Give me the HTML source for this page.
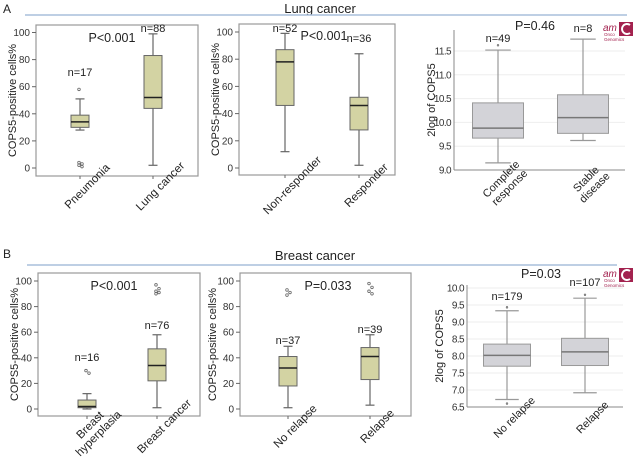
<!DOCTYPE html>
<html><head><meta charset="utf-8"><style>
body{margin:0;background:#fff;width:640px;height:460px;overflow:hidden;font-family:"Liberation Sans",sans-serif}
svg text{font-family:"Liberation Sans",sans-serif}
</style></head><body>
<svg id="fig" width="640" height="460" viewBox="0 0 640 460">
<text x="3" y="13" font-size="12" fill="#222">A</text>
<text x="320" y="13" font-size="13" text-anchor="middle" fill="#222">Lung cancer</text>
<line x1="25" y1="15" x2="627" y2="15" stroke="#a9bfdc" stroke-width="1.5"/>
<text x="3" y="258" font-size="12" fill="#222">B</text>
<text x="315" y="260" font-size="13" text-anchor="middle" fill="#222">Breast cancer</text>
<line x1="27" y1="265" x2="617" y2="265" stroke="#a9bfdc" stroke-width="1.5"/>
<g transform="translate(603,22)">
<text x="0" y="9" font-size="10" font-style="italic" fill="#a3224f" font-family="Liberation Serif">am</text>
<text x="1" y="14" font-size="4.5" fill="#a3224f">Onco</text>
<text x="1" y="19" font-size="4.5" fill="#a3224f">Genomics</text>
<rect x="16" y="0" width="14" height="14" fill="#a3224f"/>
<path d="M27 3 A5 5 0 1 0 27 11" stroke="#fff" stroke-width="2" fill="none"/>
</g>
<g transform="translate(603,268)">
<text x="0" y="9" font-size="10" font-style="italic" fill="#a3224f" font-family="Liberation Serif">am</text>
<text x="1" y="14" font-size="4.5" fill="#a3224f">Onco</text>
<text x="1" y="19" font-size="4.5" fill="#a3224f">Genomics</text>
<rect x="16" y="0" width="14" height="14" fill="#a3224f"/>
<path d="M27 3 A5 5 0 1 0 27 11" stroke="#fff" stroke-width="2" fill="none"/>
</g>
</svg>
<script>
// Panel A1
const a1Categories=["Pneumonia","Lung cancer"];
const a1Low=[28,2],a1Q1=[30,44],a1Median=[34,52],a1Q3=[39,83],a1High=[51,99];
const a1Outliers=[[58,3,4,1,2],[]];
const a1N=["n=17","n=88"];
const a1Ticks=[0,20,40,60,80,100];
// Panel A2
const a2Categories=["Non-responder","Responder"];
const a2Low=[12,2],a2Q1=[46,28],a2Median=[78,46],a2Q3=[87,52],a2High=[99,84];
const a2Outliers=[[],[]];
const a2N=["n=52","n=36"];
const a2Ticks=[0,20,40,60,80,100];
// Panel A3
const a3Categories=[["Complete","response"],["Stable","disease"]];
const a3Low=[9.15,9.62],a3Q1=[9.67,9.77],a3Median=[9.88,10.1],a3Q3=[10.41,10.58],a3High=[11.52,11.75];
const a3Outliers=[[11.62],[]];
const a3N=["n=49","n=8"];
const a3Ticks=[9.0,9.5,10.0,10.5,11.0,11.5];
// Panel B1
const b1Categories=[["Breast","hyperplasia"],"Breast cancer"];
const b1Low=[0,1],b1Q1=[1,22],b1Median=[2,34],b1Q3=[7,47],b1High=[12,58];
const b1Outliers=[[30,28],[97,94,92,91,90]];
const b1N=["n=16","n=76"];
const b1Ticks=[0,20,40,60,80,100];
// Panel B2
const b2Categories=["No relapse","Relapse"];
const b2Low=[1,3],b2Q1=[18,23],b2Median=[32,41],b2Q3=[41,48],b2High=[49,58];
const b2Outliers=[[93,91,89],[98,95,92,90]];
const b2N=["n=37","n=39"];
const b2Ticks=[0,20,40,60,80,100];
// Panel B3
const b3Categories=["No relapse","Relapse"];
const b3Low=[6.72,6.92],b3Q1=[7.7,7.72],b3Median=[8.02,8.12],b3Q3=[8.35,8.52],b3High=[9.33,9.7];
const b3Outliers=[[9.43,6.6],[9.8]];
const b3N=["n=179","n=107"];
const b3Ticks=[6.5,7.0,7.5,8.0,8.5,9.0,9.5,10.0];

const NS="http://www.w3.org/2000/svg";
const svg=document.getElementById('fig');
function mk(tag,attrs,parent){const e=document.createElementNS(NS,tag);for(const k in attrs)e.setAttribute(k,attrs[k]);(parent||svg).appendChild(e);return e;}

function panel(o){
  const g=mk('g',{});
  
  
  const y=v=>o.y0+(v-o.vmin)/(o.vmax-o.vmin)*(o.y1-o.y0);
  const spss=o.style==='spss';
  if(spss){
    const fr=mk('rect',{x:o.fx0,y:o.fy0,width:o.fx1-o.fx0,height:o.fy1-o.fy0,fill:'none',stroke:'#999','stroke-width':1.2},g);
    
    
  }else{
    o.ticks.forEach(t=>{const l=mk('line',{x1:o.fx0,x2:o.fx1,y1:y(t),y2:y(t),stroke:'#eee'},g);
      
      });
    const ax=mk('line',{x1:o.fx0,x2:o.fx0,y1:o.fy0,y2:o.fy1,stroke:'#888'},g);
    
    
    const bx=mk('line',{x1:o.fx0,x2:o.fx1,y1:o.fy1,y2:o.fy1,stroke:'#888'},g);
    
    
  }
  o.ticks.forEach(t=>{
    const tx=mk('text',{x:o.fx0-(spss?6:3),y:y(t)+3.5,'font-size':10,'text-anchor':'end',fill:'#333','letter-spacing':spss?0:-0.6},g);
    tx.textContent=spss?t:t.toFixed(1);
    
    
    if(spss){mk('line',{x1:o.fx0-4,x2:o.fx0,y1:y(t),y2:y(t),stroke:'#666'},g);}
  });
  const yt=mk('text',{x:0,y:0,'font-size':11,'text-anchor':'middle',fill:'#222',transform:`translate(${o.ytx},${(o.fy0+o.fy1)/2}) rotate(-90)`},g);
  yt.textContent=o.ylabel;
  
  
  o.cats.forEach((c,i)=>{
    const cx=o.cx[i],w=o.bw;
    const stroke=spss?'#666':'#999';
    const wl=mk('line',{x1:cx,x2:cx,y1:y(o.low[i]),y2:y(o.high[i]),stroke:stroke,'stroke-width':1.2},g);
    
    
    [o.low[i],o.high[i]].forEach(v=>{const c2=mk('line',{x1:cx-w/4,x2:cx+w/4,y1:y(v),y2:y(v),stroke:stroke,'stroke-width':1.2},g);
      
      });
    const b=mk('rect',{x:cx-w/2,y:y(o.q3[i]),width:w,height:y(o.q1[i])-y(o.q3[i]),fill:spss?'#d3d3a3':'#d3d3d8',stroke:stroke,'stroke-width':1},g);
    
    
    const m=mk('line',{x1:cx-w/2,x2:cx+w/2,y1:y(o.med[i]),y2:y(o.med[i]),stroke:spss?'#222':'#777','stroke-width':1.5},g);
    
    
    o.out[i].forEach((v,j)=>{const p=mk('circle',{cx:cx+(spss?((j%2)*3-1):0),cy:y(v),r:spss?1.3:0.8,fill:'none',stroke:'#666','stroke-width':0.8},g);
      
      });
    const n=mk('text',{x:cx,y:o.ny[i],'font-size':11,'text-anchor':'middle',fill:'#222'},g);
    n.textContent=o.n[i];
    
    
    if(spss)mk('line',{x1:cx,x2:cx,y1:o.fy1,y2:o.fy1+3,stroke:'#666'},g);
    const lines=Array.isArray(c)?c:[c];
    const cl=mk('text',{x:0,y:0,'font-size':spss?11.5:11,'text-anchor':'middle',fill:'#222',transform:`translate(${cx+7},${o.fy1+(lines.length>1?13:10)}) rotate(-45)`},g);
    
    
    lines.forEach((ln,k)=>{const ts=mk('tspan',{x:0,dy:k?12:(4-(lines.length-1)*6)},cl);ts.textContent=ln;});
  });
  const pt=mk('text',{x:o.px,y:o.py,'font-size':12.5,'text-anchor':'middle',fill:'#222'},g);
  pt.textContent=o.p;
  
  
}
const ylab="COPS5-positive cells%";
panel({name:'panel-a1',style:'spss',fx0:36,fx1:198,fy0:25,fy1:176,vmin:0,vmax:100,y0:168,y1:32.5,cx:[80,153],bw:18,cats:a1Categories,low:a1Low,q1:a1Q1,med:a1Median,q3:a1Q3,high:a1High,out:a1Outliers,n:a1N,ny:[76,32],ticks:a1Ticks,ylabel:ylab,ytx:16,p:'P<0.001',px:112,py:42});
panel({name:'panel-a2',style:'spss',fx0:239,fx1:395,fy0:24,fy1:175,vmin:0,vmax:100,y0:168,y1:32,cx:[285,359],bw:18,cats:a2Categories,low:a2Low,q1:a2Q1,med:a2Median,q3:a2Q3,high:a2High,out:a2Outliers,n:a2N,ny:[32,42],ticks:a2Ticks,ylabel:ylab,ytx:219,p:'P<0.001',px:324,py:40});
panel({name:'panel-a3',style:'gray',fx0:454,fx1:625,fy0:30,fy1:170,vmin:9.0,vmax:11.5,y0:170,y1:51,cx:[498,583],bw:51,cats:a3Categories,low:a3Low,q1:a3Q1,med:a3Median,q3:a3Q3,high:a3High,out:a3Outliers,n:a3N,ny:[42,32],ticks:a3Ticks,ylabel:'2log of COPS5',ytx:435,p:'P=0.46',px:535,py:30});
panel({name:'panel-b1',style:'spss',fx0:38,fx1:200,fy0:273,fy1:416,vmin:0,vmax:100,y0:409,y1:281,cx:[87,157],bw:18,cats:b1Categories,low:b1Low,q1:b1Q1,med:b1Median,q3:b1Q3,high:b1High,out:b1Outliers,n:b1N,ny:[361,329],ticks:b1Ticks,ylabel:ylab,ytx:18,p:'P<0.001',px:114,py:290});
panel({name:'panel-b2',style:'spss',fx0:240,fx1:411,fy0:273,fy1:416,vmin:0,vmax:100,y0:409,y1:281,cx:[288,370],bw:18,cats:b2Categories,low:b2Low,q1:b2Q1,med:b2Median,q3:b2Q3,high:b2High,out:b2Outliers,n:b2N,ny:[344,333],ticks:b2Ticks,ylabel:ylab,ytx:216,p:'P=0.033',px:328,py:290});
panel({name:'panel-b3',style:'gray',fx0:467,fx1:623,fy0:285,fy1:407,vmin:6.5,vmax:10.0,y0:407,y1:288,cx:[507,585],bw:47,cats:b3Categories,low:b3Low,q1:b3Q1,med:b3Median,q3:b3Q3,high:b3High,out:b3Outliers,n:b3N,ny:[300,286],ticks:b3Ticks,ylabel:'2log of COPS5',ytx:443,p:'P=0.03',px:541,py:278});
</script>
</body></html>
